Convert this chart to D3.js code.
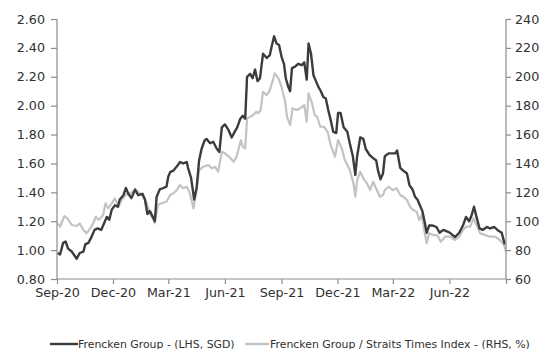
<!DOCTYPE html>
<html>
<head>
<meta charset="utf-8">
<script src="https://cdn.jsdelivr.net/npm/d3@7"></script>
<style>
  html, body { margin: 0; padding: 0; background: #fff; }
  svg { display: block; font-family: "DejaVu Sans", Verdana, sans-serif; }
</style>
</head>
<body>
<svg id="chart" width="543" height="349"></svg>
<script>
// ---- Data ----
const priceDates = ["2020-09-02","2020-09-06","2020-09-11","2020-09-15","2020-09-19","2020-09-25","2020-10-03","2020-10-08","2020-10-14","2020-10-17","2020-10-22","2020-10-27","2020-11-01","2020-11-06","2020-11-12","2020-11-15","2020-11-21","2020-11-25","2020-11-29","2020-12-04","2020-12-09","2020-12-12","2020-12-18","2020-12-22","2020-12-26","2020-12-31","2021-01-06","2021-01-11","2021-01-18","2021-01-22","2021-01-26","2021-01-30","2021-02-05","2021-02-07","2021-02-10","2021-02-15","2021-02-21","2021-02-26","2021-03-01","2021-03-04","2021-03-09","2021-03-15","2021-03-20","2021-03-25","2021-03-31","2021-04-02","2021-04-07","2021-04-12","2021-04-16","2021-04-20","2021-04-24","2021-04-29","2021-05-02","2021-05-08","2021-05-13","2021-05-19","2021-05-23","2021-05-27","2021-06-01","2021-06-07","2021-06-12","2021-06-17","2021-06-21","2021-06-26","2021-06-30","2021-07-04","2021-07-07","2021-07-12","2021-07-16","2021-07-20","2021-07-24","2021-07-28","2021-08-02","2021-08-08","2021-08-13","2021-08-16","2021-08-20","2021-08-24","2021-08-28","2021-09-01","2021-09-05","2021-09-08","2021-09-12","2021-09-15","2021-09-18","2021-09-23","2021-09-28","2021-10-04","2021-10-08","2021-10-12","2021-10-15","2021-10-19","2021-10-23","2021-10-27","2021-10-31","2021-11-04","2021-11-08","2021-11-12","2021-11-16","2021-11-20","2021-11-24","2021-11-29","2021-12-02","2021-12-06","2021-12-11","2021-12-17","2021-12-21","2021-12-26","2021-12-30","2022-01-02","2022-01-07","2022-01-12","2022-01-16","2022-01-22","2022-01-27","2022-02-02","2022-02-05","2022-02-09","2022-02-13","2022-02-16","2022-02-22","2022-02-27","2022-03-05","2022-03-08","2022-03-13","2022-03-18","2022-03-24","2022-03-28","2022-04-02","2022-04-06","2022-04-10","2022-04-14","2022-04-18","2022-04-22","2022-04-25","2022-04-29","2022-05-05","2022-05-11","2022-05-16","2022-05-22","2022-05-28","2022-06-02","2022-06-10","2022-06-17","2022-06-23","2022-06-28","2022-07-03","2022-07-07","2022-07-11","2022-07-15","2022-07-20","2022-07-25","2022-08-01","2022-08-06","2022-08-13","2022-08-18","2022-08-25","2022-08-30"];
const priceValues = [0.98,0.97,1.05,1.06,1.01,0.99,0.94,0.98,0.99,1.04,1.05,1.09,1.14,1.15,1.14,1.17,1.23,1.21,1.28,1.31,1.30,1.35,1.38,1.43,1.39,1.36,1.42,1.38,1.39,1.35,1.25,1.27,1.22,1.20,1.37,1.42,1.43,1.44,1.51,1.54,1.55,1.58,1.61,1.60,1.61,1.57,1.50,1.35,1.43,1.62,1.70,1.76,1.77,1.74,1.75,1.70,1.68,1.85,1.87,1.83,1.78,1.82,1.85,1.91,1.93,1.91,2.20,2.22,2.19,2.25,2.17,2.19,2.36,2.33,2.35,2.41,2.48,2.43,2.42,2.34,2.29,2.19,2.13,2.10,2.26,2.27,2.29,2.28,2.30,2.18,2.43,2.36,2.21,2.17,2.13,2.10,2.06,2.05,1.97,1.90,1.82,1.81,1.95,1.95,1.85,1.82,1.74,1.65,1.52,1.65,1.78,1.77,1.70,1.66,1.64,1.62,1.55,1.49,1.53,1.65,1.67,1.67,1.67,1.69,1.57,1.55,1.53,1.45,1.42,1.37,1.35,1.31,1.27,1.19,1.12,1.17,1.17,1.16,1.12,1.14,1.13,1.12,1.09,1.12,1.17,1.23,1.20,1.24,1.30,1.23,1.15,1.14,1.16,1.15,1.16,1.14,1.12,1.04];

const ratioDates = ["2020-09-02","2020-09-06","2020-09-13","2020-09-18","2020-09-25","2020-10-03","2020-10-08","2020-10-14","2020-10-19","2020-10-25","2020-10-30","2020-11-03","2020-11-08","2020-11-15","2020-11-19","2020-11-23","2020-11-29","2020-12-04","2020-12-10","2020-12-15","2020-12-21","2020-12-29","2021-01-06","2021-01-14","2021-01-19","2021-01-25","2021-01-30","2021-02-05","2021-02-07","2021-02-12","2021-02-18","2021-02-26","2021-03-04","2021-03-09","2021-03-15","2021-03-20","2021-03-25","2021-03-31","2021-04-05","2021-04-11","2021-04-16","2021-04-20","2021-04-24","2021-04-27","2021-05-05","2021-05-11","2021-05-16","2021-05-21","2021-05-27","2021-06-01","2021-06-08","2021-06-15","2021-06-20","2021-06-27","2021-06-30","2021-07-04","2021-07-07","2021-07-12","2021-07-17","2021-07-22","2021-07-25","2021-07-29","2021-08-02","2021-08-08","2021-08-13","2021-08-18","2021-08-21","2021-08-27","2021-09-01","2021-09-07","2021-09-10","2021-09-15","2021-09-19","2021-09-26","2021-10-01","2021-10-08","2021-10-12","2021-10-15","2021-10-20","2021-10-25","2021-10-29","2021-11-03","2021-11-09","2021-11-15","2021-11-20","2021-11-24","2021-11-27","2021-12-02","2021-12-08","2021-12-13","2021-12-21","2021-12-27","2021-12-30","2022-01-02","2022-01-07","2022-01-12","2022-01-18","2022-01-23","2022-01-28","2022-02-03","2022-02-08","2022-02-13","2022-02-16","2022-02-22","2022-03-01","2022-03-07","2022-03-13","2022-03-18","2022-03-24","2022-03-29","2022-04-03","2022-04-09","2022-04-13","2022-04-17","2022-04-21","2022-04-25","2022-04-29","2022-05-06","2022-05-12","2022-05-18","2022-05-25","2022-06-02","2022-06-10","2022-06-17","2022-06-23","2022-06-28","2022-07-05","2022-07-10","2022-07-15","2022-07-21","2022-07-29","2022-08-06","2022-08-14","2022-08-22","2022-08-29","2022-09-01"];
const ratioValues = [98.5,96.2,103.6,102,97.4,96.7,98.5,93.9,91.6,95.1,98.5,103.1,100.8,104.3,112.4,108.9,112.4,115.8,110,114.7,118.1,119.3,121.6,119.3,117,112.4,105.5,100.8,98.5,111.2,112.4,113.5,118.1,119.3,121.6,125.1,122.8,123.9,119.3,108.9,121.6,135.4,136.8,137.7,138.9,136.6,137.7,134.3,148.1,147,144.6,141.2,144.6,156.2,151.6,150.4,171.2,172.3,173.5,175.8,174.7,177,189.6,187.3,190.8,197.7,202.4,198.9,193.1,182.7,172.3,166.6,178.1,177,178.1,180.4,168.9,188.5,182.7,173.5,172.3,165.4,165.4,161.9,152.7,148.1,144.6,156.2,150.4,142.4,135.4,126.2,117,128.5,134.3,129.7,126.2,121.6,127.3,121.6,117,118.1,121.6,123.9,121.6,122.8,118.1,117,114.7,110,107.8,106.6,100.8,104.3,93.9,84.7,91.6,90.4,90.4,85.8,89.3,89.3,87,89.3,93.9,96.2,96.2,102,97.4,91.6,90.4,89.3,89.3,87,83.5,78.9];

const xTickDates = ["2020-09-01","2020-12-01","2021-03-01","2021-06-01","2021-09-01","2021-12-01","2022-03-01","2022-06-01","2022-09-01"];
const xTickLabels = ["Sep-20","Dec-20","Mar-21","Jun-21","Sep-21","Dec-21","Mar-22","Jun-22",""];
const leftTicks = [0.8,1.0,1.2,1.4,1.6,1.8,2.0,2.2,2.4,2.6];
const rightTicks = [60,80,100,120,140,160,180,200,220,240];
const legendLabels = ["Frencken Group - (LHS, SGD)","Frencken Group / Straits Times Index - (RHS, %)"];

// ---- Layout ----
const parse = d3.utcParse("%Y-%m-%d");
const plot = { left: 57, right: 506, top: 19, bottom: 279 };
const axisColor = "#8c8c8c";
const textColor = "#303030";
const darkColor = "#3c3c3c";
const lightColor = "#c3c3c3";

const svg = d3.select("#chart");

const x = d3.scaleUtc()
  .domain([parse("2020-09-01"), parse("2022-09-01")])
  .range([plot.left, plot.right]);
const yL = d3.scaleLinear().domain([0.8, 2.6]).range([plot.bottom, plot.top]);
const yR = d3.scaleLinear().domain([60, 240]).range([plot.bottom, plot.top]);

const price = priceDates.map((d, i) => ({ date: parse(d), v: priceValues[i] }));
const ratio = ratioDates.map((d, i) => ({ date: parse(d), v: ratioValues[i] }));

// Axes
const fontSize = "12.7px";
const leftAxis = d3.axisLeft(yL).tickValues(leftTicks).tickFormat(d3.format(".2f")).tickSize(6).tickPadding(6);
const rightAxis = d3.axisRight(yR).tickValues(rightTicks).tickFormat(d3.format("d")).tickSize(5).tickPadding(4);
const bottomAxis = d3.axisBottom(x).tickValues(xTickDates.map(parse))
  .tickFormat((d, i) => xTickLabels[i]).tickSize(5).tickPadding(4);

function styleAxis(g) {
  g.select(".domain").attr("stroke", axisColor).attr("stroke-width", 1.2);
  g.selectAll(".tick line").attr("stroke", axisColor).attr("stroke-width", 1.2);
  g.selectAll(".tick text").attr("fill", textColor).style("font-size", fontSize);
  g.attr("font-family", null);
}

// lines
const line = (ys) => d3.line().x(d => x(d.date)).y(d => ys(d.v));

svg.append("path").datum(ratio)
  .attr("d", line(yR))
  .attr("fill", "none").attr("stroke", lightColor).attr("stroke-width", 2.2)
  .attr("stroke-linejoin", "round");

svg.append("path").datum(price)
  .attr("d", line(yL))
  .attr("fill", "none").attr("stroke", darkColor).attr("stroke-width", 2.4)
  .attr("stroke-linejoin", "round");

const gL = svg.append("g").attr("transform", `translate(${plot.left},0)`).call(leftAxis);
styleAxis(gL);
gL.select(".domain").attr("d", `M0,${plot.top}V${plot.bottom}`);
const gR = svg.append("g").attr("transform", `translate(${plot.right},0)`).call(rightAxis);
styleAxis(gR);
gR.select(".domain").attr("d", `M0,${plot.top}V${plot.bottom}`);
const gB = svg.append("g").attr("transform", `translate(0,${plot.bottom})`).call(bottomAxis);
styleAxis(gB);
gB.select(".domain").attr("d", `M${plot.left},0H${plot.right}`);

// Legend
const legend = svg.append("g").style("font-size", "10.9px");
const legendItems = [
  { label: legendLabels[0], color: darkColor, x1: 50, x2: 78, tx: 78 },
  { label: legendLabels[1], color: lightColor, x1: 245, x2: 269, tx: 270 }
];
legendItems.forEach(it => {
  legend.append("line").attr("x1", it.x1).attr("x2", it.x2).attr("y1", 344).attr("y2", 344)
    .attr("stroke", it.color).attr("stroke-width", 2.4);
  legend.append("text").attr("x", it.tx).attr("y", 347.5).attr("fill", textColor).text(it.label);
});
</script>
</body>
</html>
